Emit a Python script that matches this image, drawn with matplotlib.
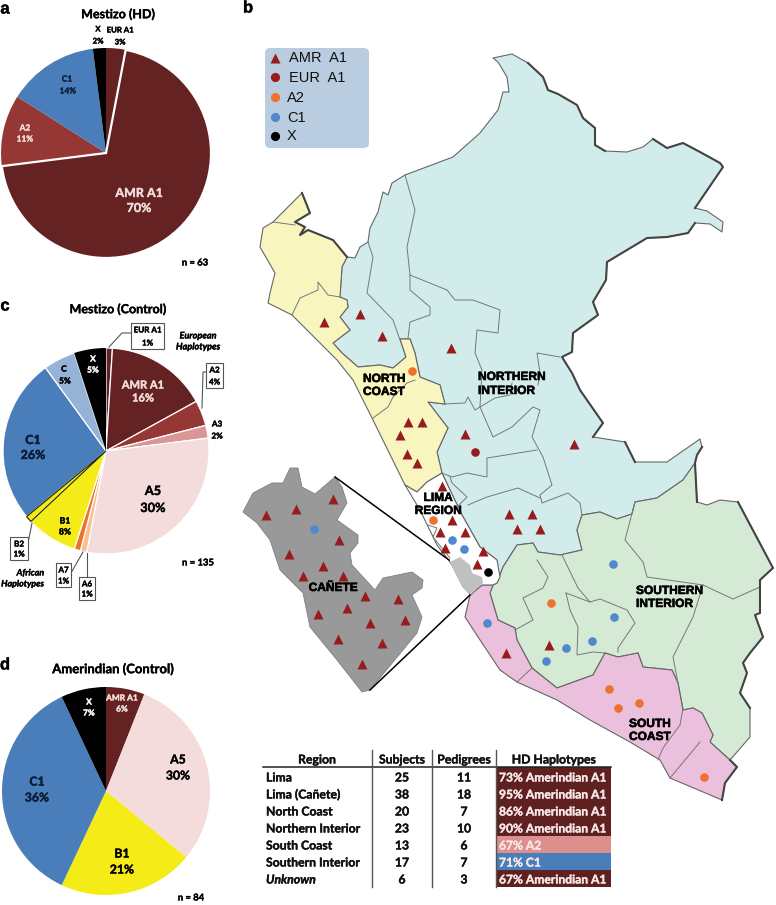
import matplotlib
matplotlib.use('Agg')
import matplotlib.pyplot as plt
from matplotlib.patches import Polygon, Rectangle, FancyBboxPatch
import matplotlib.patheffects as pe

plt.rcParams['font.family'] = ['Lato', 'DejaVu Sans']

# pie values, clockwise from the top
labels_a = ['EUR A1', 'AMR A1', 'A2', 'C1', 'X']
values_a = [3, 70, 11, 14, 2]
labels_c = ['EUR A1', 'AMR A1', 'A2', 'A3', 'A5', 'A6', 'A7', 'B1', 'B2', 'C1', 'C', 'X']
values_c = [1, 16, 4, 2, 30, 1, 1, 8, 1, 26, 5, 5]
labels_d = ['AMR A1', 'A5', 'B1', 'C1', 'X']
values_d = [6, 30, 21, 36, 7]

hap_colors = {'EUR A1': '#642322', 'AMR A1': '#642322', 'A2': '#953735', 'A3': '#d99694',
              'A5': '#f3dcdb', 'A6': '#fac090', 'A7': '#ea7427', 'B1': '#f5ec17', 'B2': '#f5ec17',
              'C1': '#4a7ebb', 'C': '#95b3d7', 'X': '#000000'}

# table
regions = ['Lima', 'Lima (Cañete)', 'North Coast', 'Northern Interior', 'South Coast', 'Southern Interior', 'Unknown']
subjects = [25, 38, 20, 23, 13, 17, 6]
pedigrees = [11, 18, 7, 10, 6, 7, 3]
haplotypes = ['73% Amerindian A1', '95% Amerindian A1', '86% Amerindian A1', '90% Amerindian A1',
              '67% A2', '71% C1', '67% Amerindian A1']
hap_cells = ['#5f2020', '#5f2020', '#5f2020', '#5f2020', '#dd8f8d', '#4a7ebb', '#5f2020']

# map outlines
north_interior = [(493,58),(512,54),(528,63),(543,77),(548,90),(558,94),(577,105),(583,118),(595,128),(595,145),
    (605,151),(627,152),(643,147),(653,139),(667,148),(683,143),(700,152),(720,163),(723,167),(695,208),(707,211),
    (723,222),(722,232),(710,224),(695,223),(688,233),(667,237),(647,238),(627,250),(607,262),(606,280),(593,302),
    (598,315),(573,333),(572,352),(562,357),(572,373),(580,390),(603,423),(593,437),(625,442),(635,462),(667,462),
    (700,439),(702,447),(697,455),(695,463),(683,480),(657,498),(635,502),(632,514),(617,519),(600,512),(582,515),
    (577,530),(582,550),(560,555),(538,552),(533,543),(517,545),(503,567),(497,583),(497,560),(480,547),(462,515),
    (450,490),(442,473),(437,452),(448,428),(428,402),(445,404),(440,385),(420,377),(415,353),(410,339),(400,339),
    (406,357),(393,368),(380,365),(358,367),(342,353),(333,343),(350,330),(340,317),(348,307),(347,300),(340,297),
    (342,267),(347,257),(355,258),(360,247),(368,242),(370,228),(378,212),(383,192),(388,195),(392,183),(405,175),
    (453,157),(480,133),(498,110),(503,92),(509,92),(507,77),(498,62)]
north_coast = [(302,193),(310,213),(295,222),(305,227),(300,235),(308,230),(333,240),(347,257),(342,267),(340,297),
    (347,300),(348,307),(340,317),(350,330),(333,343),(342,353),(358,367),(380,365),(393,368),(406,357),(400,339),
    (410,339),(415,353),(420,377),(440,385),(445,404),(428,402),(448,428),(437,452),(442,473),(427,482),(417,492),
    (405,485),(373,420),(353,380),(337,360),(292,315),(268,303),(270,293),(275,273),(260,247),(263,228),(273,222)]
south_interior = [(497,583),(503,567),(517,545),(533,543),(538,552),(560,555),(582,550),(577,530),(582,515),(600,512),
    (617,519),(632,514),(635,502),(657,498),(683,480),(695,463),(697,502),(707,505),(720,500),(738,502),(773,568),
    (760,580),(760,613),(755,615),(763,637),(750,653),(743,663),(747,673),(740,693),(750,708),(750,737),(730,760),
    (710,742),(713,735),(702,713),(693,708),(683,710),(678,683),(672,670),(643,667),(638,653),(618,657),(605,653),
    (593,675),(557,688),(532,668),(517,640),(515,628),(498,620),(490,593),(493,585)]
south_coast = [(470,595),(482,585),(493,585),(490,593),(498,620),(515,628),(517,640),(532,668),(557,688),(593,675),
    (605,653),(618,657),(638,653),(643,667),(672,670),(678,683),(683,710),(693,708),(702,713),(713,735),(710,742),
    (730,760),(737,767),(725,783),(722,800),(670,778),(660,760),(630,742),(590,720),(557,700),(517,682),(500,670),
    (482,643),(465,617)]
lima = [(442,473),(450,490),(462,515),(480,547),(497,560),(500,577),(497,583),(493,585),(482,585),(470,595),(450,562),
    (437,545),(420,510),(405,485),(417,492),(427,482)]
canete_small = [(450,562),(460,557),(470,565),(472,573),(482,577),(483,583),(470,595),(462,587),(455,573)]
canete_big = [(243,512),(253,493),(272,483),(283,483),(290,468),(298,468),(302,487),(315,494),(335,477),(342,487),
    (347,503),(337,520),(358,535),(358,543),(350,553),(352,565),(375,590),(383,578),(412,572),(423,580),(422,588),
    (412,595),(422,617),(417,633),(370,690),(362,692),(337,660),(310,627),(303,593),(280,570),(270,540),(257,523)]

inner_lines = [
    [(273,222),(295,225)],
    [(292,315),(300,298),(318,290),(318,282),(328,295),(340,297)],
    [(373,418),(388,407),(393,397),(407,383),(415,380)],
    [(405,175),(415,210),(407,247),(410,275),(447,290),(455,300),(473,300),(500,310),(498,333),(477,330),(475,353),(482,370),(480,407)],
    [(368,242),(373,257),(367,293),(393,320),(400,340)],
    [(410,275),(410,290),(430,307),(430,315),(410,322),(408,338)],
    [(445,404),(465,403),(468,397),(475,410),(480,407),(495,398),(510,395),(512,383)],
    [(560,357),(537,353),(540,373),(538,385)],
    [(480,407),(493,437),(512,427),(533,407),(540,410),(532,437),(543,457),(552,485),(540,495),(542,503),(568,493),(580,503),(582,515)],
    [(537,450),(487,458),(487,477),(467,473),(452,477),(442,473)],
    [(450,477),(452,483),(467,497),(457,507)],
    [(468,505),(487,497),(518,488),(540,498)],
    [(428,525),(437,528),(433,537),(450,558)],
    [(562,555),(578,588),(590,602)],
    [(566,593),(590,602),(600,599),(627,610),(635,623),(618,648),(618,652)],
    [(566,593),(570,610),(578,627),(577,655),(593,652),(605,653)],
    [(537,560),(548,577),(543,588),(523,598),(533,620),(515,630)],
    [(635,502),(625,540),(643,562),(647,577),(703,585),(733,599),(760,587)],
    [(703,585),(693,617),(673,657),(678,683)],
    [(532,668),(517,682)],
    [(700,742),(670,778)],
    [(683,708),(680,725),(663,748),(658,760)],
]
thick_borders = [
    [(528,63),(543,77),(548,90),(558,94),(577,105),(583,118),(595,128),(595,145),(605,151)],
    [(653,139),(667,148),(683,143),(700,152),(720,163),(723,167),(695,208)],
    [(695,223),(688,233),(667,237),(647,238),(627,250),(607,262),(606,280),(593,302),(598,315),(573,333),(572,352),(562,357),
     (572,373),(580,390),(603,423),(593,437)],
    [(625,442),(635,462)],
    [(702,447),(697,455),(695,463),(697,502)],
    [(738,502),(773,568),(760,580),(760,613),(755,615),(763,637),(750,653),(743,663),(747,673),(740,693),(750,708)],
    [(730,760),(737,767),(725,783),(722,800)],
    [(302,193),(310,213),(295,222),(305,227),(300,235),(308,230),(333,240),(347,257)],
]

# sample sites
amr_sites = [(324,322),(360,314),(382,336),(451,348),(408,422),(422,422),(400,435),(407,454),(417,463),(442,486),(465,434),
    (574,444),(509,514),(532,514),(517,529),(540,529),(452,520),(440,532),(465,532),(445,548),(483,551),(477,564),
    (506,653),(549,645),
    (266,515),(296,509),(333,499),(339,540),(289,554),(323,566),(303,576),(343,576),(365,596),(398,599),(347,608),
    (318,614),(370,623),(405,620),(338,639),(382,643),(362,664)]
eur_sites = [(475,452)]
a2_sites = [(412,371),(433,520),(551,603),(609,689),(618,708),(639,703),(704,777)]
c1_sites = [(314,529),(452,540),(464,549),(487,623),(566,648),(546,661),(592,641),(614,617),(613,564)]
x_sites = [(488,572)]
legend_names = ['AMR  A1', 'EUR  A1', 'A2', 'C1', 'X']
site_colors = ['#981b1e', '#981b1e', '#ed7230', '#4f88cf', '#000000']

fig = plt.figure(figsize=(7.76, 9.05), dpi=100, facecolor='white')
ax = fig.add_axes([0, 0, 1, 1])


def draw_pie(labels, values, cx, cy, r):
    # y axis is flipped, so counterclock here comes out clockwise on the page
    w, _ = ax.pie(values, colors=[hap_colors[l] for l in labels], center=(cx, cy), radius=r,
                  startangle=-90, counterclock=True, frame=True)
    return w


def txt(x, y, s, size=7, color='black', ha='center', weight='bold', **kw):
    # thin stroke, the text in the picture is heavier than Lato bold
    kw.setdefault('path_effects', [pe.withStroke(linewidth=0.25, foreground=color)])
    ax.text(x, y, s, fontsize=size, color=color, ha=ha, va='center', fontweight=weight, **kw)


def boxed(x0, y0, x1, y1, line1, line2, leader):
    ax.add_patch(Rectangle((x0, y0), x1 - x0, y1 - y0, fc='white', ec='#555555', lw=0.8, zorder=4))
    ax.plot([p[0] for p in leader], [p[1] for p in leader], color='#555555', lw=0.8, zorder=3)
    xm = (x0 + x1) / 2
    txt(xm, y0 + 7, line1, size=5.8, zorder=5)
    txt(xm, y1 - 6, line2, size=5.8, zorder=5)


# pie a
w = draw_pie(labels_a, values_a, 106, 153, 105)
w[1].set(edgecolor='white', linewidth=1.6, zorder=2)
# pie c
w = draw_pie(labels_c, values_c, 106, 451, 103)
for i, wedge in enumerate(w):
    if labels_c[i] == 'X':
        continue
    wedge.set(edgecolor='white', linewidth=0.9)
w[labels_c.index('B2')].set(edgecolor='#222200', linewidth=0.8, zorder=2)
# pie d
draw_pie(labels_d, values_d, 106, 791, 104)

for s, x, y in [('a', 5, 9), ('b', 248, 8), ('c', 5, 306), ('d', 5, 665)]:
    txt(x, y, s, size=12, family=['Liberation Sans'])

for s, x, y, fs in [('Mestizo (HD)', 118, 14, 9), ('Mestizo (Control)', 118, 309, 9), ('Amerindian (Control)', 113, 669, 9.4)]:
    txt(x, y, s, size=fs)

# labels on pie a
txt(98, 29, 'X', 5.6); txt(98, 41, '2%', 5.6)
txt(120, 30, 'EUR A1', 5.6); txt(120, 42, '3%', 5.6)
txt(67, 79, 'C1', 6, color='#10243f'); txt(68, 91, '14%', 6, color='#10243f')
txt(25, 128, 'A2', 6, color='#f2dcdb'); txt(25, 139, '11%', 6, color='#f2dcdb')
txt(139, 193, 'AMR A1', 9, color='#f2dcdb'); txt(139, 208, '70%', 9, color='#f2dcdb')
txt(195, 263, 'n = 63', 6.8)

# labels on pie c
boxed(131, 323, 164, 349, 'EUR A1', '1%', [(109, 347), (122, 333), (131, 333)])
boxed(206, 363, 223, 388, 'A2', '4%', [(202, 408), (203, 372), (206, 372)])
boxed(10, 537, 28, 560, 'B2', '1%', [(32, 523), (28, 543)])
boxed(56, 563, 71, 587, 'A7', '1%', [(83, 552), (71, 573)])
boxed(79, 577, 95, 600, 'A6', '1%', [(87, 553), (87, 577)])
txt(198, 336, 'European', 6.6, style='italic'); txt(198, 347, 'Haplotypes', 6.6, style='italic')
txt(44, 573, 'African', 6.4, ha='right', style='italic'); txt(44, 584, 'Haplotypes', 6.4, ha='right', style='italic')
txt(143, 385, 'AMR A1', 8, color='#f2dcdb'); txt(143, 398, '16%', 8, color='#f2dcdb')
txt(217, 424, 'A3', 5.8); txt(217, 436, '2%', 5.8)
txt(153, 491, 'A5', 9.2); txt(153, 508, '30%', 9.2)
txt(198, 563, 'n = 135', 6.8)
txt(65, 521, 'B1', 6.2); txt(65, 532, '8%', 6.2)
txt(33, 440, 'C1', 9, color='#0a1a33'); txt(33, 455, '26%', 9, color='#0a1a33')
txt(64, 369, 'C', 6); txt(65, 381, '5%', 6)
txt(93, 359, 'X', 6, color='white'); txt(93, 370, '5%', 6, color='white')

# labels on pie d
txt(122, 698, 'AMR A1', 6, color='#f2dcdb'); txt(122, 709, '6%', 6, color='#f2dcdb')
txt(89, 702, 'X', 6, color='white'); txt(89, 713, '7%', 6, color='white')
txt(178, 760, 'A5', 8.8); txt(178, 776, '30%', 8.8)
txt(122, 854, 'B1', 8.8); txt(122, 870, '21%', 8.8)
txt(37, 782, 'C1', 8.8, color='#0a1a33'); txt(37, 798, '36%', 8.8, color='#0a1a33')
txt(191, 898, 'n = 84', 6.8)

# map
for pts, col in [(north_interior, '#d2ecec'), (north_coast, '#f8f5bf'), (south_interior, '#d5ead4'),
                 (south_coast, '#ebc0dc'), (lima, 'white')]:
    ax.add_patch(Polygon(pts, closed=True, fc=col, ec='#666666', lw=0.8, zorder=1.5, joinstyle='round'))
ax.add_patch(Polygon(canete_small, closed=True, fc='#c0c0c0', ec='none', zorder=1.6))
ax.add_patch(Polygon(canete_big, closed=True, fc='#999999', ec='#808080', lw=0.6, zorder=1.6))
for line in inner_lines:
    ax.plot([p[0] for p in line], [p[1] for p in line], color='#777777', lw=0.7, zorder=1.7)
for line in thick_borders:
    ax.plot([p[0] for p in line], [p[1] for p in line], color='#444444', lw=1.5, zorder=1.8)
ax.plot([335, 449], [477, 560], color='black', lw=1.1, zorder=1.9)
ax.plot([370, 470], [690, 595], color='black', lw=1.1, zorder=1.9)

ax.plot(*zip(*amr_sites), ls='none', marker='^', ms=7.5, mfc=site_colors[0], mec='none', zorder=2.5)
for sites, col in [(eur_sites, site_colors[1]), (a2_sites, site_colors[2]), (c1_sites, site_colors[3]), (x_sites, site_colors[4])]:
    ax.plot(*zip(*sites), ls='none', marker='o', ms=6.2, mfc=col, mec='none', zorder=2.5)

map_font = dict(size=8.6, ha='left', family=['Liberation Sans'],
                path_effects=[pe.withStroke(linewidth=0.4, foreground='black')])
for s, x, y in [('NORTHERN', 478, 377), ('INTERIOR', 478, 391), ('SOUTHERN', 636, 591), ('INTERIOR', 636, 604),
                ('SOUTH', 629, 724), ('COAST', 629, 737), ('NORTH', 363, 379), ('COAST', 363, 392)]:
    txt(x, y, s, **map_font)
for s, x, y in [('LIMA', 438, 498), ('REGION', 438, 511), ('CAÑETE', 333, 588)]:
    txt(x, y, s, **{**map_font, 'ha': 'center'})

# legend
ax.add_patch(FancyBboxPatch((269, 52), 96, 92, boxstyle='round,pad=4,rounding_size=5', fc='#b9cce0', ec='none', zorder=2.6))
legend_markers = ['^', 'o', 'o', 'o', 'o']
legend_y = [58, 77, 97, 117, 136]
for i, name in enumerate(legend_names):
    ax.plot([275], [legend_y[i]], marker=legend_markers[i], ms=7.5 if i == 0 else 6.6, mfc=site_colors[i], mec='none', ls='none', zorder=2.7)
    ax.text(289 if i < 2 else 287, legend_y[i] + 0.5, name, fontsize=10.5, family=['Liberation Sans'], va='center', color='#111111', zorder=2.7)

# table
row_y = [778, 795, 812, 829, 846, 863, 880]
for i in range(len(regions)):
    ax.add_patch(Rectangle((496, 767 + i * 17.14), 115, 17.14, fc=hap_cells[i], ec='none', zorder=1.2))
    txt(266, row_y[i], regions[i], 8.8, ha='left', color='#111111', style='italic' if regions[i] == 'Unknown' else 'normal')
    txt(402, row_y[i], str(subjects[i]), 8.8, color='#111111')
    txt(464, row_y[i], str(pedigrees[i]), 8.8, color='#111111')
    txt(499, row_y[i], haplotypes[i], 8.7, ha='left', color='#f6e6e6')
for s, x in [('Region', 317), ('Subjects', 402), ('Pedigrees', 464), ('HD Haplotypes', 554)]:
    txt(x, 760, s, 8.8, color='#111111')
ax.plot([263, 611], [767, 767], color='#222222', lw=1.1, zorder=1.3)
for x in [372, 432, 496]:
    ax.plot([x, x], [750, 887], color='#555555', lw=1.0, zorder=1.3)

ax.set_xlim(0, 776)
ax.set_ylim(905, 0)
ax.axis('off')
fig.savefig('out.png', dpi=100)
